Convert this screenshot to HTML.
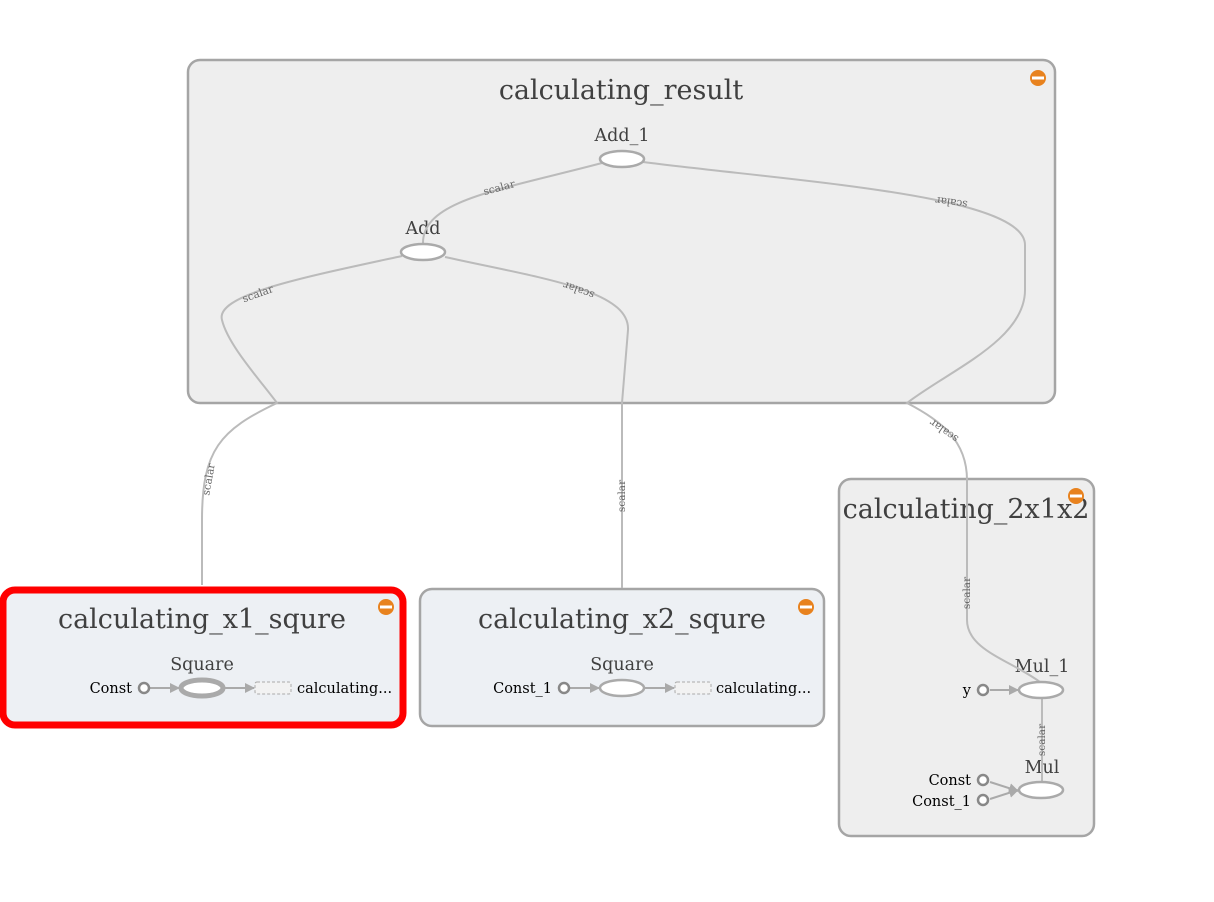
<!DOCTYPE html>
<html><head><meta charset="utf-8"><style>
body{margin:0;background:#fff;width:1214px;height:897px;overflow:hidden}
svg{font-family:"DejaVu Serif","Liberation Serif",serif}
</style></head><body>
<svg width="1214" height="897" viewBox="0 0 1214 897">
<defs>
<marker id="ar" viewBox="0 0 10 10" refX="9" refY="5" markerWidth="10" markerHeight="10" markerUnits="userSpaceOnUse" orient="auto"><path d="M0,0L10,5L0,10z" fill="#aaa"/></marker>
</defs>
<rect x="188" y="60" width="867" height="343" rx="12" fill="#eeeeee" stroke="#a5a5a5" stroke-width="2.5"/>
<rect x="839" y="479" width="255" height="357" rx="12" fill="#eeeeee" stroke="#a5a5a5" stroke-width="2.5"/>
<rect x="420" y="589" width="404" height="137" rx="12" fill="#edf0f4" stroke="#a5a5a5" stroke-width="2.5"/>
<rect x="3" y="590" width="400" height="135" rx="12" fill="#edf0f4" stroke="#ff0000" stroke-width="7"/>
<g fill="#404040" text-anchor="middle">
<text x="621" y="99" font-size="27">calculating_result</text>
<text x="966" y="518" font-size="27">calculating_2x1x2</text>
<text x="622" y="628" font-size="27">calculating_x2_squre</text>
<text x="202" y="628" font-size="27">calculating_x1_squre</text>
<text x="622" y="141" font-size="17.5">Add_1</text>
<text x="423" y="234" font-size="17.5">Add</text>
<text x="202" y="670" font-size="17.5">Square</text>
<text x="622" y="670" font-size="17.5">Square</text>
<text x="1042" y="672" font-size="17.5">Mul_1</text>
<text x="1042" y="773" font-size="17.5">Mul</text>
</g>
<g>
<circle cx="1038" cy="78" r="8" fill="#e8821e"/><rect x="1032" y="76.5" width="12" height="3" fill="#fff"/>
<circle cx="1076" cy="496" r="8" fill="#e8821e"/><rect x="1070" y="494.5" width="12" height="3" fill="#fff"/>
<circle cx="806" cy="607" r="8" fill="#e8821e"/><rect x="800" y="605.5" width="12" height="3" fill="#fff"/>
<circle cx="386" cy="607" r="8" fill="#e8821e"/><rect x="380" y="605.5" width="12" height="3" fill="#fff"/>
</g>
<g fill="none" stroke="#bbbbbb" stroke-width="2">
<path d="M602,163 C500,190 423,200 423,243"/>
<path d="M643,162 C800,182 1025,195 1025,245 L1025,290 C1025,340 950,370 907,403 C940,420 967,440 967,480 L967,620 C967,650 1010,660 1040,682"/>
<path d="M402,256 C300,278 215,295 222,320 C228,345 260,380 277,403 C220,430 202,450 202,520 L202,585"/>
<path d="M445,257 C540,278 630,290 628,330 L622,403 L622,588"/>
<path d="M1042,699 L1042,781"/>
</g>
<g font-size="10.5" fill="#666" text-anchor="middle">
<text transform="translate(500,191) rotate(-15)">scalar</text>
<text transform="translate(952,199) rotate(188)">scalar</text>
<text transform="translate(259,297) rotate(-20)">scalar</text>
<text transform="translate(580,287) rotate(200)">scalar</text>
<text transform="translate(946,428) rotate(215)">scalar</text>
<text transform="translate(212,480) rotate(-80)">scalar</text>
<text transform="translate(625,496) rotate(-90)">scalar</text>
<text transform="translate(970,593) rotate(-90)">scalar</text>
<text transform="translate(1045,740) rotate(-90)">scalar</text>
</g>
<g fill="#fff" stroke="#aaa" stroke-width="2.5">
<ellipse cx="622" cy="159" rx="22" ry="8"/>
<ellipse cx="423" cy="252" rx="22" ry="8"/>
<ellipse cx="202" cy="688" rx="21" ry="8" stroke-width="5"/>
<ellipse cx="622" cy="688" rx="22" ry="8"/>
<ellipse cx="1041" cy="690" rx="22" ry="8"/>
<ellipse cx="1041" cy="790" rx="22" ry="8"/>
</g>
<g stroke="#aaa" stroke-width="2" marker-end="url(#ar)">
<line x1="150" y1="688" x2="179" y2="688"/>
<line x1="224" y1="688" x2="254" y2="688"/>
<line x1="570" y1="688" x2="599" y2="688"/>
<line x1="645" y1="688" x2="674" y2="688"/>
<line x1="990" y1="690" x2="1018" y2="690"/>
<line x1="990" y1="782" x2="1018" y2="791"/>
<line x1="990" y1="799" x2="1018" y2="790"/>
</g>
<g fill="#fff" stroke="#888" stroke-width="2.5">
<circle cx="144" cy="688" r="5"/><circle cx="564" cy="688" r="5"/>
<circle cx="983" cy="690" r="5"/><circle cx="983" cy="780" r="5"/><circle cx="983" cy="800" r="5"/>
</g>
<g fill="#f2f2f2" stroke="#aaa" stroke-dasharray="3,2">
<rect x="255" y="682" width="36" height="12" rx="2"/>
<rect x="675" y="682" width="36" height="12" rx="2"/>
</g>
<g font-size="14.5" fill="#000">
<text x="132" y="693" text-anchor="end">Const</text>
<text x="552" y="693" text-anchor="end">Const_1</text>
<text x="297" y="693">calculating...</text>
<text x="716" y="693">calculating...</text>
<text x="971" y="695" text-anchor="end">y</text>
<text x="971" y="785" text-anchor="end">Const</text>
<text x="971" y="806" text-anchor="end">Const_1</text>
</g>
</svg>
</body></html>
